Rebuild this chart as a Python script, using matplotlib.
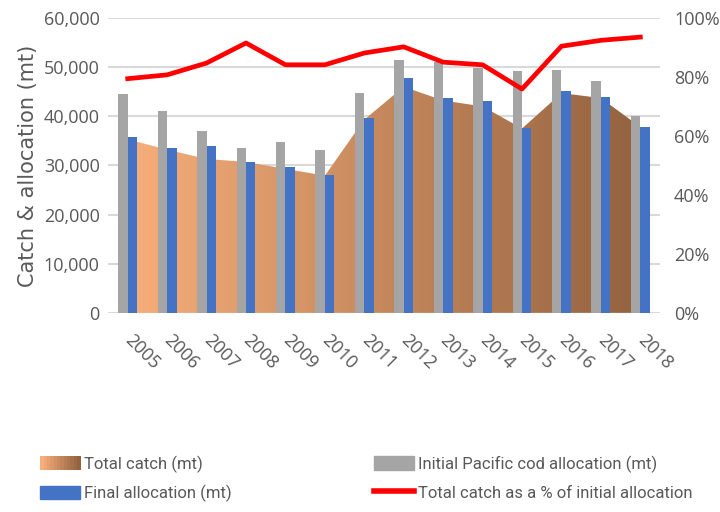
"""Pacific cod catch vs. allocation, 2005-2018 (combo chart: area + columns + % line)."""

import matplotlib

matplotlib.use("Agg")

import matplotlib.pyplot as plt
import numpy as np
from matplotlib import font_manager
from matplotlib.colors import LinearSegmentedColormap
from matplotlib.legend_handler import HandlerBase
from matplotlib.lines import Line2D
from matplotlib.patches import Patch, Rectangle
from matplotlib.ticker import FuncFormatter, MultipleLocator

YEARS = ["2005", "2006", "2007", "2008", "2009", "2010", "2011",
         "2012", "2013", "2014", "2015", "2016", "2017", "2018"]
INITIAL_ALLOC = [44500, 41100, 37000, 33600, 34700, 33200, 44800,
                 51500, 51000, 49800, 49300, 49500, 47200, 40100]
FINAL_ALLOC = [35700, 33600, 33900, 30600, 29600, 28100, 39700,
               47800, 43700, 43100, 37700, 45200, 44000, 37900]
TOTAL_CATCH = [35300, 33200, 31300, 30700, 29300, 27900, 39300,
               46000, 43200, 42000, 37500, 44700, 43700, 37800]
CATCH_PCT = [79.4, 80.7, 84.7, 91.5, 84.1, 84.1, 88.1,
             90.2, 85.0, 84.1, 75.9, 90.4, 92.4, 93.5]

GRAY = "#A5A5A5"
BLUE = "#4472C4"
RED = "#FF0000"
TEXT = "#595959"
GRID = "#D9D9D9"
CATCH_LIGHT = "#F7AE7A"
CATCH_DARK = "#93623F"


def pick_font(*names):
    have = {f.name for f in font_manager.fontManager.ttflist}
    return [n for n in names if n in have] + ["DejaVu Sans"]


TICK_FONT = pick_font("Liberation Sans Narrow", "Open Sans")
LEGEND_FONT = pick_font("Liberation Sans Narrow", "Roboto")
catch_cmap = LinearSegmentedColormap.from_list("catch", [CATCH_LIGHT, CATCH_DARK])


class GradientHandler(HandlerBase):
    """Legend swatch drawn as a left-to-right gradient, like the area fill."""

    def create_artists(self, legend, orig_handle, xdescent, ydescent,
                       width, height, fontsize, trans):
        steps = 12
        out = []
        for i in range(steps):
            r = Rectangle((-xdescent + width * i / steps, -ydescent),
                          width / steps + 0.3, height,
                          facecolor=catch_cmap(i / (steps - 1)),
                          edgecolor="none", transform=trans)
            out.append(r)
        return out


fig = plt.figure(figsize=(7.2, 5.12), dpi=100)
ax = fig.add_axes([0.15, 0.389, 0.7667, 0.576])
x = np.arange(len(YEARS))

# total catch area with horizontal gradient clipped to the polygon
poly = ax.fill_between(x, 0, TOTAL_CATCH, facecolor="none", edgecolor="none", zorder=1)
grad = np.linspace(0, 1, 256).reshape(1, -1)
img = ax.imshow(grad, cmap=catch_cmap, aspect="auto", zorder=1,
                extent=[x[0], x[-1], 0, max(TOTAL_CATCH)], origin="lower")
img.set_clip_path(poly.get_paths()[0], transform=ax.transData)

w = 0.24
ax.bar(x - w / 2, INITIAL_ALLOC, width=w, color=GRAY, zorder=2)
ax.bar(x + w / 2, FINAL_ALLOC, width=w, color=BLUE, zorder=2)

ax.set_xlim(-0.5, len(YEARS) - 0.5)
ax.set_ylim(0, 60000)
ax.yaxis.set_major_locator(MultipleLocator(10000))
ax.yaxis.set_major_formatter(FuncFormatter(lambda v, _: f"{v:,.0f}"))
ax.grid(axis="y", color=GRID, linewidth=1.5, zorder=0)
ax.set_axisbelow(True)
for s in ax.spines.values():
    s.set_visible(False)
ax.tick_params(length=0, colors=TEXT, labelsize=13, pad=6)
for lab in ax.get_yticklabels():
    lab.set_family(TICK_FONT)
ax.set_xticks(x)
ax.set_xticklabels(YEARS, rotation=-45, ha="left", va="center",
                   rotation_mode="anchor", family=TICK_FONT, fontsize=13)
ax.tick_params(axis="x", pad=18)
ax.set_ylabel("Catch & allocation (mt)", color=TEXT, fontsize=15,
              family="DejaVu Sans", labelpad=4)

ax2 = ax.twinx()
ax2.plot(x, CATCH_PCT, color=RED, linewidth=3.4, solid_joinstyle="round", zorder=3)
ax2.set_ylim(0, 100)
ax2.yaxis.set_major_locator(MultipleLocator(20))
ax2.yaxis.set_major_formatter(FuncFormatter(lambda v, _: f"{v:.0f}%"))
for s in ax2.spines.values():
    s.set_visible(False)
ax2.tick_params(length=0, colors=TEXT, labelsize=13, pad=10)
for lab in ax2.get_yticklabels():
    lab.set_family(TICK_FONT)

handles = [
    Patch(label="Total catch (mt)"),
    Patch(color=BLUE, label="Final allocation (mt)"),
    Patch(color=GRAY, label="Initial Pacific cod allocation (mt)"),
    Line2D([], [], color=RED, linewidth=4, label="Total catch as a % of initial allocation"),
]
leg = fig.legend(handles=handles, ncol=2, loc="upper left",
                 bbox_to_anchor=(0.035, 0.14), frameon=False,
                 prop={"family": LEGEND_FONT, "size": 12},
                 handlelength=2.4, handleheight=0.85, handletextpad=0.2,
                 columnspacing=8.6, labelspacing=0.75,
                 handler_map={handles[0]: GradientHandler()})
for t in leg.get_texts():
    t.set_color(TEXT)

fig.savefig("out.png", dpi=100)
